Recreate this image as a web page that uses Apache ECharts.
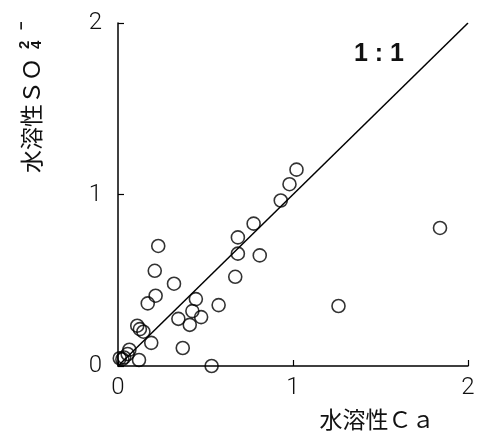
<!DOCTYPE html>
<html>
<head>
<meta charset="utf-8">
<script src="https://cdn.jsdelivr.net/npm/echarts@6/dist/echarts.min.js"></script>
<style>
  html, body { margin: 0; padding: 0; background: #fff; }
  #chart { width: 477px; height: 434px; }
</style>
</head>
<body>
<div id="chart"></div>
<script>
// Water-soluble Ca (x) against water-soluble SO4 2- (y)
const caValues = [0.23, 0.21, 0.32, 0.215, 0.17, 0.445, 0.575, 0.425, 0.345, 0.475,
  0.41, 0.11, 0.125, 0.145, 0.19, 0.37, 0.065, 0.12, 0.535, 0.025,
  0.685, 0.775, 0.685, 0.81, 0.67, 0.93, 0.98, 1.02, 1.26, 1.84,
  0.055, 0.035, 0.01];
const so4Values = [0.70, 0.555, 0.48, 0.41, 0.365, 0.39, 0.355, 0.32, 0.275, 0.285,
  0.24, 0.235, 0.215, 0.20, 0.135, 0.105, 0.095, 0.035, 0.0, 0.04,
  0.75, 0.83, 0.655, 0.645, 0.52, 0.965, 1.06, 1.145, 0.35, 0.805,
  0.07, 0.05, 0.045];
// 1:1 reference line end points
const oneToOne = [[0, 0], [2, 2]];
const axisTicks = [0, 1, 2];

const points = caValues.map((x, i) => [x, so4Values[i]]);

const tickFont = "'Liberation Sans Narrow', 'Roboto', sans-serif";

const chart = echarts.init(document.getElementById('chart'), null, { renderer: 'canvas' });
chart.setOption({
  animation: false,
  backgroundColor: '#fff',
  grid: { left: 118, right: 9, top: 23, bottom: 68, containLabel: false, outerBoundsMode: 'none' },
  xAxis: {
    type: 'value', min: axisTicks[0], max: axisTicks[axisTicks.length - 1], interval: 1,
    axisLine: { show: true, lineStyle: { color: '#000', width: 1.5 } },
    axisTick: { show: true, inside: true, length: 6, lineStyle: { color: '#000', width: 1.2 } },
    axisLabel: { color: '#111', fontSize: 24, fontWeight: 300, fontFamily: tickFont, margin: 10 },
    splitLine: { show: false }
  },
  yAxis: {
    type: 'value', min: axisTicks[0], max: axisTicks[axisTicks.length - 1], interval: 1,
    axisLine: { show: true, lineStyle: { color: '#000', width: 1.5 } },
    axisTick: { show: true, inside: true, length: 6, lineStyle: { color: '#000', width: 1.2 } },
    axisLabel: { color: '#111', fontSize: 24, fontWeight: 300, fontFamily: tickFont, margin: 16 },
    splitLine: { show: false }
  },
  graphic: [
    {
      type: 'text', x: 377, y: 419,
      style: { text: '水溶性Ｃａ', font: "23px 'Noto Sans CJK JP', sans-serif", fill: '#111', align: 'center', verticalAlign: 'middle' }
    },
    {
      type: 'group', x: 31, y: 173, rotation: Math.PI / 2,
      children: [
        { type: 'text', x: 0, y: 0, style: { text: '水溶性ＳＯ', font: "23px 'Noto Sans CJK JP', sans-serif", fill: '#111', align: 'left', verticalAlign: 'middle' } },
        { type: 'text', x: 124, y: -6, style: { text: '2', font: "bold 15px 'Liberation Sans', sans-serif", fill: '#111', align: 'left', verticalAlign: 'middle' } },
        { type: 'text', x: 124, y: 6, style: { text: '4', font: "bold 15px 'Liberation Sans', sans-serif", fill: '#111', align: 'left', verticalAlign: 'middle' } },
        { type: 'text', x: 143, y: -9, style: { text: '−', font: "bold 15px 'Liberation Sans', sans-serif", fill: '#111', align: 'left', verticalAlign: 'middle' } }
      ]
    },
    {
      type: 'text', x: 379, y: 54,
      style: { text: '1 : 1', font: "bold 25px 'Liberation Sans', Arial, sans-serif", fill: '#111', align: 'center', verticalAlign: 'middle' }
    }
  ],
  series: [
    {
      type: 'line', data: oneToOne, symbol: 'none', silent: true,
      lineStyle: { color: '#000', width: 1.5 }, z: 1
    },
    {
      type: 'scatter', data: points, symbol: 'circle', symbolSize: 13, clip: false,
      itemStyle: { color: 'rgba(0,0,0,0)', borderColor: '#000', borderWidth: 1.6 }, z: 2
    }
  ]
});
</script>
</body>
</html>
